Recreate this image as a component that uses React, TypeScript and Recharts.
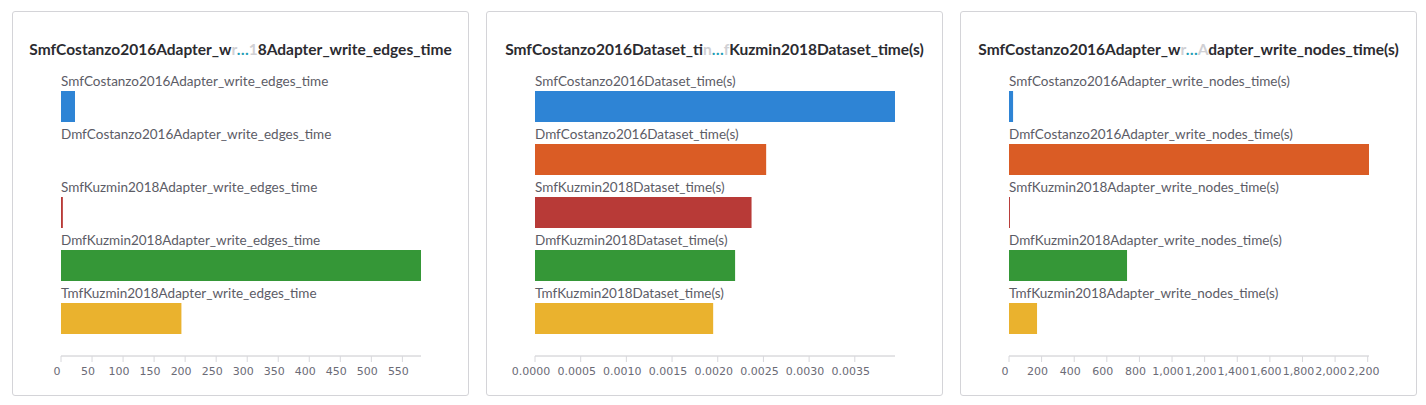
import React from 'react'
import { BarChart, Bar, XAxis, YAxis, Cell } from 'recharts'

const barColors = ['#2e84d5', '#da5c25', '#b83a37', '#359737', '#eab22e']

const edgesLabels = [
  'SmfCostanzo2016Adapter_write_edges_time',
  'DmfCostanzo2016Adapter_write_edges_time',
  'SmfKuzmin2018Adapter_write_edges_time',
  'DmfKuzmin2018Adapter_write_edges_time',
  'TmfKuzmin2018Adapter_write_edges_time',
]
const edgesValues = [22.6, 0, 3, 580, 194]
const edgesTicks = [0, 50, 100, 150, 200, 250, 300, 350, 400, 450, 500, 550]

const datasetLabels = [
  'SmfCostanzo2016Dataset_time(s)',
  'DmfCostanzo2016Dataset_time(s)',
  'SmfKuzmin2018Dataset_time(s)',
  'DmfKuzmin2018Dataset_time(s)',
  'TmfKuzmin2018Dataset_time(s)',
]
const datasetValues = [0.00394, 0.00253, 0.00237, 0.00219, 0.00195]
const datasetTicks = [0, 0.0005, 0.001, 0.0015, 0.002, 0.0025, 0.003, 0.0035]

const nodesLabels = [
  'SmfCostanzo2016Adapter_write_nodes_time(s)',
  'DmfCostanzo2016Adapter_write_nodes_time(s)',
  'SmfKuzmin2018Adapter_write_nodes_time(s)',
  'DmfKuzmin2018Adapter_write_nodes_time(s)',
  'TmfKuzmin2018Adapter_write_nodes_time(s)',
]
const nodesValues = [25, 2208, 6, 724, 172]
const nodesTicks = [0, 200, 400, 600, 800, 1000, 1200, 1400, 1600, 1800, 2000, 2200]

// title split around the middle truncation: [start, faded, faded, end]
const edgesTitle = ['SmfCostanzo2016Adapter_w', 'r', '1', '8Adapter_write_edges_time']
const datasetTitle = ['SmfCostanzo2016Dataset_ti', 'n', 'f', 'Kuzmin2018Dataset_time(s)']
const nodesTitle = ['SmfCostanzo2016Adapter_w', 'r', 'A', 'dapter_write_nodes_time(s)']

const CARD_W = 457
const CARD_H = 385
const BAR_SIZE = 31

type PanelProps = {
  left: number
  title: string[]
  labels: string[]
  values: number[]
  ticks: number[]
  format: (v: number) => string
}

// category names sit just above each bar, left aligned with the bar start
const NameTick = (props: any) => {
  const { x, y, payload } = props
  return (
    <text x={x} y={y - BAR_SIZE / 2 - 5} fill="#5c5c66" fontSize={13.5} fontFamily="Lato" textAnchor="start">
      {payload.value}
    </text>
  )
}

function Panel({ left, title, labels, values, ticks, format }: PanelProps) {
  const data = labels.map((name, i) => ({ name, value: values[i] }))
  const max = Math.max(...values)

  return (
    <div
      style={{
        position: 'absolute',
        left,
        top: 11,
        width: CARD_W,
        height: CARD_H,
        border: '1px solid #d4d4d8',
        borderRadius: 3,
        boxSizing: 'border-box',
        background: '#fff',
      }}
    >
      <div
        style={{
          position: 'absolute',
          top: 27,
          left: 0,
          width: '100%',
          textAlign: 'center',
          fontFamily: 'Lato',
          fontWeight: 700,
          fontSize: 15.5,
          lineHeight: '20px',
          color: '#2b2b30',
          whiteSpace: 'nowrap',
        }}
      >
        {title[0]}
        <span style={{ color: '#d0d0d4' }}>{title[1]}</span>
        <span style={{ color: '#1f9db5' }}>…</span>
        <span style={{ color: '#d0d0d4' }}>{title[2]}</span>
        {title[3]}
      </div>
      <div style={{ position: 'absolute', left: -1, top: -1 }}>
        <BarChart
          layout="vertical"
          width={CARD_W}
          height={CARD_H}
          data={data}
          margin={{ top: 69, right: 48, bottom: 10, left: 48 }}
          barSize={BAR_SIZE}
        >
          <XAxis
            type="number"
            dataKey="value"
            domain={[0, max]}
            allowDataOverflow
            ticks={ticks}
            interval={0}
            tickFormatter={format}
            height={30}
            stroke="#c8c8cc"
            tickLine={{ stroke: '#d8d8dc' }}
            tickSize={6}
            tickMargin={5}
            tick={{ fill: '#6b6b76', fontSize: 11, fontFamily: 'DejaVu Sans', dx: -4 }}
          />
          <YAxis
            type="category"
            dataKey="name"
            width={1}
            axisLine={false}
            tickLine={false}
            tickSize={0}
            tickMargin={0}
            interval={0}
            tick={NameTick}
            padding={{ top: 0, bottom: 11 }}
          />
          <Bar dataKey="value" isAnimationActive={false}>
            {data.map((d, i) => (
              <Cell key={d.name} fill={barColors[i]} />
            ))}
          </Bar>
        </BarChart>
      </div>
    </div>
  )
}

export default function App() {
  return (
    <div style={{ position: 'absolute', left: 0, top: 0, width: 1426, height: 405, background: '#fff' }}>
      <Panel
        left={12}
        title={edgesTitle}
        labels={edgesLabels}
        values={edgesValues}
        ticks={edgesTicks}
        format={(v) => String(v)}
      />
      <Panel
        left={486}
        title={datasetTitle}
        labels={datasetLabels}
        values={datasetValues}
        ticks={datasetTicks}
        format={(v) => v.toFixed(4)}
      />
      <Panel
        left={960}
        title={nodesTitle}
        labels={nodesLabels}
        values={nodesValues}
        ticks={nodesTicks}
        format={(v) => v.toLocaleString('en-US')}
      />
    </div>
  )
}
